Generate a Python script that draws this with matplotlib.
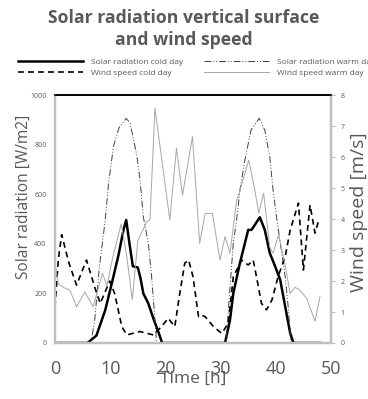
import numpy as np
import matplotlib.pyplot as plt

plt.rcParams['font.family'] = ['Open Sans', 'DejaVu Sans']

# solar radiation cold day [W/m2]
h_sc = [0, 5.7, 6.0, 7.5, 9.1, 10.3, 11.5, 12.4, 12.9, 13.5, 14.1, 15.0, 15.5, 16.0, 16.9, 17.8, 18.8, 19.4,
        30.8, 31.7, 32.3, 33.5, 35.0, 35.6, 37.1, 38.0, 38.9, 39.9, 40.8, 41.7, 42.6, 43.2, 48]
sol_cold = [0, 0, 2, 30, 133, 242, 355, 457, 497, 400, 310, 305, 260, 200, 160, 100, 40, 0,
            0, 93, 201, 323, 457, 457, 508, 457, 364, 308, 255, 147, 40, 0, 0]

# solar radiation warm day [W/m2]
h_sw = [0, 6.5, 7.2, 8.0, 9.1, 9.7, 10.6, 11.6, 12.9, 13.6, 14.8, 15.4, 16.0, 16.9, 17.5, 18.1, 18.4,
        31.0, 31.4, 32.3, 32.9, 33.5, 34.4, 35.5, 37.0, 38.0, 38.9, 39.5, 40.2, 41.7, 42.3, 42.7]
sol_warm = [0, 0, 93, 300, 497, 645, 795, 870, 908, 888, 760, 659, 510, 404, 268, 93, 0,
            0, 133, 404, 497, 618, 739, 860, 908, 860, 753, 618, 497, 268, 133, 0]

# wind speed cold day [m/s]
h_wc = [0, 0.6, 1.2, 2.5, 3.9, 5.7, 7.2, 8.2, 9.9, 10.8, 12.1, 13.0, 15.4, 17.8, 19.3, 20.5, 21.7, 22.6, 23.5,
        24.2, 25.0, 26.0, 26.6, 27.2, 28.7, 30.2, 31.4, 32.3, 33.8, 35.0, 35.9, 36.5, 37.4, 38.3, 39.3, 40.4,
        41.7, 42.6, 44.1, 45.0, 46.2, 47.1, 47.7]
wind_cold = [1.17, 2.7, 3.5, 2.6, 1.87, 2.68, 1.8, 1.28, 2.0, 1.6, 0.53, 0.26, 0.37, 0.26, 0.53, 0.8, 0.53, 1.6, 2.58,
             2.68, 2.14, 0.85, 0.9, 0.85, 0.53, 0.31, 0.64, 2.14, 2.68, 2.52, 2.68, 2.14, 1.28, 1.07, 1.39, 2.14,
             2.79, 3.65, 4.52, 2.36, 4.46, 3.55, 3.92]

# wind speed warm day [m/s]
h_ww = [0, 0.6, 1.5, 2.7, 3.9, 5.4, 6.9, 8.6, 9.4, 10.5, 12.0, 13.0, 14.0, 15.0, 16.6, 17.2, 18.1, 20.8, 22.0,
        23.1, 24.9, 26.2, 27.2, 28.5, 29.9, 30.8, 31.7, 32.9, 33.5, 35.1, 36.2, 36.9, 37.8, 38.9, 39.5, 40.5,
        41.7, 42.6, 43.5, 44.4, 45.6, 47.1, 48.0]
wind_warm = [2.6, 1.9, 1.8, 1.71, 1.17, 1.65, 1.17, 2.25, 1.85, 2.8, 3.85, 2.8, 1.4, 3.3, 3.92, 3.98, 7.59, 3.98, 6.29,
             4.78, 6.67, 3.22, 4.19, 4.19, 2.68, 3.44, 2.9, 4.6, 4.94, 5.91, 4.94, 4.2, 4.84, 3.1, 2.9, 3.5,
             2.5, 1.6, 1.8, 1.7, 1.44, 0.7, 1.5]

grey = '#595959'
axgrey = '#bfbfbf'

fig = plt.figure(figsize=(3.68, 3.99), dpi=100)
ax = fig.add_axes([0.1495, 0.1404, 0.75, 0.6203])
ax2 = ax.twinx()

l1, = ax.plot(h_sc, sol_cold, color='black', lw=1.8, label='Solar radiation cold day')
l2, = ax.plot(h_sw, sol_warm, color='#404040', lw=0.7, dashes=(7, 2, 1, 2, 1, 2),
              label='Solar radiation warm day')
l3, = ax2.plot(h_wc, wind_cold, color='black', lw=1.2, dashes=(3.5, 2.5), label='Wind speed cold day')
l4, = ax2.plot(h_ww, wind_warm, color='#a6a6a6', lw=0.7, label='Wind speed warm day')

ax.set_xlim(0, 50)
ax.set_ylim(0, 1000)
ax2.set_ylim(0, 8)
ax.set_xticks(range(0, 51, 10))
ax.set_yticks(range(0, 1001, 200))
ax2.set_yticks(range(0, 9))

for a in (ax, ax2):
    for s in a.spines.values():
        s.set_color(axgrey)
        s.set_linewidth(1.6)
    a.spines['top'].set_color('black')
    a.spines['top'].set_linewidth(1.2)
ax.tick_params(axis='x', length=0, labelsize=13, labelcolor=grey, pad=12)
ax.tick_params(axis='y', length=0, labelsize=5, labelcolor=grey, pad=6)
ax2.tick_params(axis='y', length=3, width=0.8, color=axgrey, labelsize=5, labelcolor=grey, pad=4)

ax.set_xlabel('Time [h]', fontsize=12.5, color=grey, labelpad=-5)
ax.set_ylabel('Solar radiation [W/m2]', fontsize=11.2, color=grey)
ax2.set_ylabel('Wind speed [m/s]', fontsize=14, color=grey)
ax.yaxis.set_label_coords(-0.085, 0.59)
ax2.yaxis.set_label_coords(1.07, 0.53)

fig.suptitle('Solar radiation vertical surface\nand wind speed', fontsize=12.7, fontweight='bold',
             color=grey, x=0.5, y=0.977, linespacing=1.3)

leg = fig.legend(handles=[l1, l3, l2, l4], ncol=2, loc='upper left', bbox_to_anchor=(0.049, 0.855),
                 frameon=False, fontsize=6, handlelength=7.8, handletextpad=0.9, columnspacing=2.6,
                 labelspacing=0.45, borderpad=0, borderaxespad=0)
for t in leg.get_texts():
    t.set_color(grey)

fig.savefig('out.png', dpi=100)
